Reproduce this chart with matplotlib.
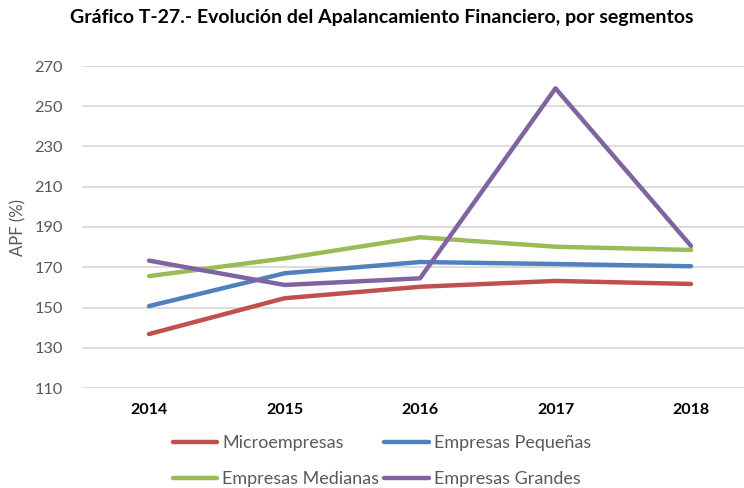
import numpy as np
import matplotlib.pyplot as plt

# Datos
anios = ['2014', '2015', '2016', '2017', '2018']
micro = [136.8, 154.6, 160.3, 163.2, 161.7]
pequenas = [150.7, 167.0, 172.6, 171.6, 170.5]
medianas = [165.6, 174.4, 184.9, 180.2, 178.6]
grandes = [173.3, 161.2, 164.5, 258.9, 180.6]

series = [('Microempresas', micro, '#C0504D'),
          ('Empresas Pequeñas', pequenas, '#4F81BD'),
          ('Empresas Medianas', medianas, '#9BBB59'),
          ('Empresas Grandes', grandes, '#8064A2')]

plt.rcParams['font.family'] = ['Lato', 'DejaVu Sans']

fig = plt.figure(figsize=(7.44, 4.88), dpi=100)
ax = fig.add_axes([82/744, 1-388/488, (744-82)/744, (388-66)/488])

x = np.arange(len(anios))
lineas = []
for nombre, valores, color in series:
    l, = ax.plot(x, valores, color=color, lw=3.2, label=nombre, solid_capstyle='round')
    lineas.append(l)

ax.set_ylim(110, 270)
ax.set_yticks(np.arange(110, 271, 20))
ax.set_xlim(-67/135.5, (744-149)/135.5)
ax.set_xticks(x)
ax.set_xticklabels(anios, fontweight='bold', fontsize=11.5, color='black')
ax.tick_params(axis='y', labelsize=11.8, labelcolor='#595959', length=0, pad=13.7)
ax.tick_params(axis='x', length=0, pad=11)
ax.grid(axis='y', color='#D9D9D9', lw=1.3)
ax.set_axisbelow(True)
for s in ax.spines.values():
    s.set_visible(False)

ax.set_ylabel('APF (%)', fontsize=12, color='#595959', labelpad=6)

fig.text(382/744, 1-17/488, 'Gráfico T-27.- Evolución del Apalancamiento Financiero, por segmentos',
         ha='center', va='center', fontsize=14, fontweight='bold')

# orden por filas como en el original
orden = [0, 2, 1, 3]
leg = fig.legend([lineas[i] for i in orden], [series[i][0] for i in orden],
                 loc='upper left', bbox_to_anchor=(173/744, 1-435/488), ncol=2, frameon=False,
                 fontsize=13, handlelength=2.45, handletextpad=0.28, columnspacing=0.28,
                 labelspacing=1.1, borderaxespad=0, borderpad=0)
for t in leg.get_texts():
    t.set_color('#595959')

fig.savefig('out.png', dpi=100)
